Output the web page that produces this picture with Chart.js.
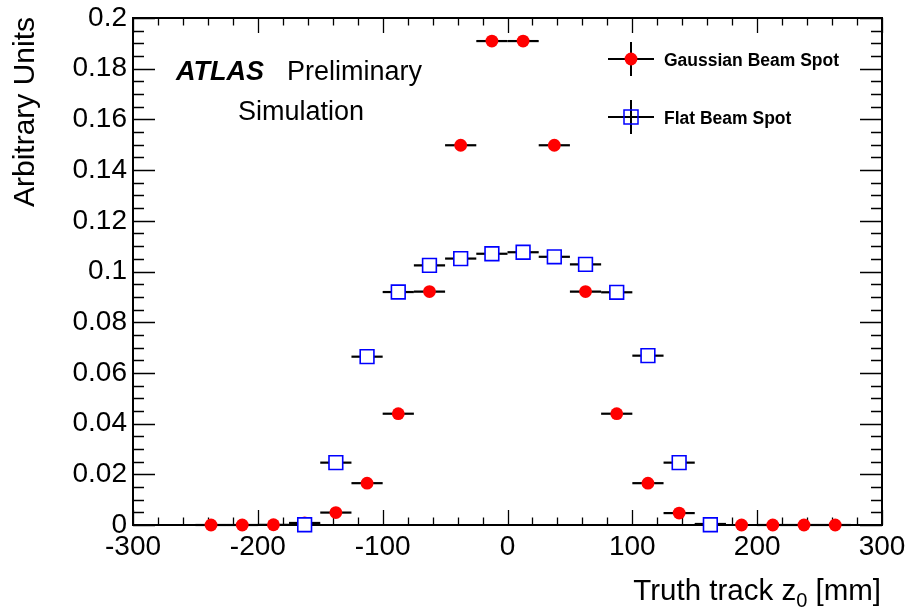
<!DOCTYPE html>
<html><head><meta charset="utf-8">
<script src="https://cdn.jsdelivr.net/npm/chart.js@4/dist/chart.umd.min.js"></script>
<style>html,body{margin:0;padding:0;background:#fff;}#wrap{width:909px;height:611px;}</style>
</head><body><div id="wrap"><canvas id="c" width="909" height="611"></canvas></div>
<script>
// ---- data ----
const gaussZ = [-237.5,-212.5,-187.5,-162.5,-137.5,-112.5,-87.5,-62.5,-37.5,-12.5,12.5,37.5,62.5,87.5,112.5,137.5,162.5,187.5,212.5,237.5,262.5];
const gaussVals = [0,0,0.0001,0.0008,0.0049,0.0165,0.0439,0.0921,0.1498,0.1909,0.1909,0.1498,0.0921,0.0439,0.0165,0.0047,0.0004,0,0,0,0];
const flatZ = [-162.5,-137.5,-112.5,-87.5,-62.5,-37.5,-12.5,12.5,37.5,62.5,87.5,112.5,137.5,162.5];
const flatVals = [0.0001,0.0246,0.0664,0.0919,0.1024,0.1051,0.1070,0.1076,0.1058,0.1028,0.0918,0.0668,0.0246,0.0001];
const binHalfWidth = 12.5;
const xRange = [-300, 300];
const yRange = [0, 0.2];
const xMajorStep = 100, xMinorStep = 20;
const yMajorStep = 0.02, yMinorStep = 0.005;
const seriesNames = ['Gaussian Beam Spot', 'Flat Beam Spot'];
const xTitle = ['Truth track z', '0', ' [mm]'];
const yTitle = 'Arbitrary Units';

const FONT = '"Liberation Sans", Arial, Helvetica, sans-serif';

const rootStyle = {
  id: 'rootStyle',
  beforeDatasetsDraw(chart) {
    const {ctx, chartArea: a, scales: {x, y}} = chart;
    ctx.save();
    // frame
    ctx.strokeStyle = '#000';
    ctx.lineWidth = 2;
    ctx.strokeRect(a.left, a.top, a.right - a.left, a.bottom - a.top);
    // ticks
    ctx.lineWidth = 1.3;
    ctx.beginPath();
    const nx = Math.round((xRange[1] - xRange[0]) / xMinorStep);
    const perMajX = Math.round(xMajorStep / xMinorStep);
    for (let i = 0; i <= nx; i++) {
      const px = Math.round(x.getPixelForValue(xRange[0] + i * xMinorStep)) + 0.5;
      const L = (i % perMajX === 0) ? 15 : 7.5;
      ctx.moveTo(px, a.bottom); ctx.lineTo(px, a.bottom - L);
      ctx.moveTo(px, a.top); ctx.lineTo(px, a.top + L);
    }
    const ny = Math.round((yRange[1] - yRange[0]) / yMinorStep);
    const perMajY = Math.round(yMajorStep / yMinorStep);
    for (let i = 0; i <= ny; i++) {
      const py = Math.round(y.getPixelForValue(yRange[0] + i * yMinorStep)) + 0.5;
      const L = (i % perMajY === 0) ? 22 : 11;
      ctx.moveTo(a.left, py); ctx.lineTo(a.left + L, py);
      ctx.moveTo(a.right, py); ctx.lineTo(a.right - L, py);
    }
    ctx.stroke();
    // error bars
    ctx.lineWidth = 2.2;
    ctx.strokeStyle = '#000';
    chart.data.datasets.forEach(ds => {
      ds.data.forEach(p => {
        const py = y.getPixelForValue(p.y);
        ctx.beginPath();
        ctx.moveTo(x.getPixelForValue(p.x - binHalfWidth), py);
        ctx.lineTo(x.getPixelForValue(p.x + binHalfWidth), py);
        ctx.stroke();
      });
    });
    ctx.restore();
  },
  afterDraw(chart) {
    const {ctx} = chart;
    ctx.save();
    ctx.fillStyle = '#000';
    ctx.textBaseline = 'alphabetic';
    // x title
    ctx.font = '29.5px ' + FONT;
    const w1 = ctx.measureText(xTitle[0]).width;
    const w3 = ctx.measureText(xTitle[2]).width;
    ctx.font = '20px ' + FONT;
    const w2 = ctx.measureText(xTitle[1]).width;
    let sx = 881 - (w1 + w2 + w3);
    ctx.font = '29.5px ' + FONT;
    ctx.textAlign = 'left';
    ctx.fillText(xTitle[0], sx, 600);
    ctx.font = '20px ' + FONT;
    ctx.fillText(xTitle[1], sx + w1, 607);
    ctx.font = '29.5px ' + FONT;
    ctx.fillText(xTitle[2], sx + w1 + w2, 600);
    // y title
    ctx.save();
    ctx.translate(34, 17);
    ctx.rotate(-Math.PI / 2);
    ctx.textAlign = 'right';
    ctx.font = '30px ' + FONT;
    ctx.fillText(yTitle, 0, 0);
    ctx.restore();
    // ATLAS label
    ctx.textAlign = 'left';
    ctx.font = 'italic bold 27px ' + FONT;
    ctx.fillText('ATLAS', 176, 80);
    ctx.font = '27px ' + FONT;
    ctx.fillText('Preliminary', 287, 80);
    ctx.fillText('Simulation', 238, 120);
    // legend
    const entries = [
      {cy: 59, type: 'circle', label: seriesNames[0]},
      {cy: 117, type: 'square', label: seriesNames[1]}
    ];
    entries.forEach(e => {
      const cx = 631;
      ctx.strokeStyle = '#000';
      ctx.lineWidth = 2;
      ctx.beginPath();
      ctx.moveTo(cx - 23, e.cy); ctx.lineTo(cx + 23, e.cy);
      ctx.moveTo(cx, e.cy - 17); ctx.lineTo(cx, e.cy + 17);
      ctx.stroke();
      if (e.type === 'circle') {
        ctx.fillStyle = '#ff0000';
        ctx.beginPath(); ctx.arc(cx, e.cy, 6.4, 0, Math.PI * 2); ctx.fill();
      } else {
        ctx.strokeStyle = '#0000ff';
        ctx.lineWidth = 1.5;
        ctx.strokeRect(cx - 7, e.cy - 7, 14, 14);
      }
      ctx.fillStyle = '#000';
      ctx.font = 'bold 17.5px ' + FONT;
      ctx.fillText(e.label, 664, e.cy + 6.5);
    });
    ctx.restore();
  }
};

new Chart(document.getElementById('c'), {
  type: 'scatter',
  data: {
    datasets: [
      {
        label: seriesNames[1],
        data: flatZ.map((z, i) => ({x: z, y: flatVals[i]})),
        pointStyle: 'rect',
        pointRadius: 9.7,
        pointBackgroundColor: '#ffffff',
        pointBorderColor: '#0000ff',
        pointBorderWidth: 1.6,
        clip: false
      },
      {
        label: seriesNames[0],
        data: gaussZ.map((z, i) => ({x: z, y: gaussVals[i]})),
        pointStyle: 'circle',
        pointRadius: 6.4,
        pointBackgroundColor: '#ff0000',
        pointBorderColor: '#ff0000',
        pointBorderWidth: 0,
        clip: false
      }
    ]
  },
  options: {
    responsive: false,
    animation: false,
    devicePixelRatio: 1,
    layout: {padding: {top: 18, right: 27, left: 0, bottom: 0}},
    plugins: {legend: {display: false}, tooltip: {enabled: false}},
    scales: {
      x: {
        type: 'linear', min: xRange[0], max: xRange[1],
        grid: {display: false, drawTicks: false},
        border: {display: false},
        ticks: {stepSize: xMajorStep, color: '#000', font: {family: FONT, size: 28}, padding: 5, maxRotation: 0,
                callback: v => String(v)},
        afterFit: s => { s.height = 86; s.paddingLeft = 0; s.paddingRight = 0; }
      },
      y: {
        type: 'linear', min: yRange[0], max: yRange[1],
        grid: {display: false, drawTicks: false},
        border: {display: false},
        ticks: {stepSize: yMajorStep, color: '#000', font: {family: FONT, size: 28}, padding: 6,
                callback: v => String(+v.toFixed(3))},
        afterFit: s => { s.width = 133; s.paddingTop = 0; s.paddingBottom = 0; }
      }
    }
  },
  plugins: [rootStyle]
});
</script>
</body></html>
